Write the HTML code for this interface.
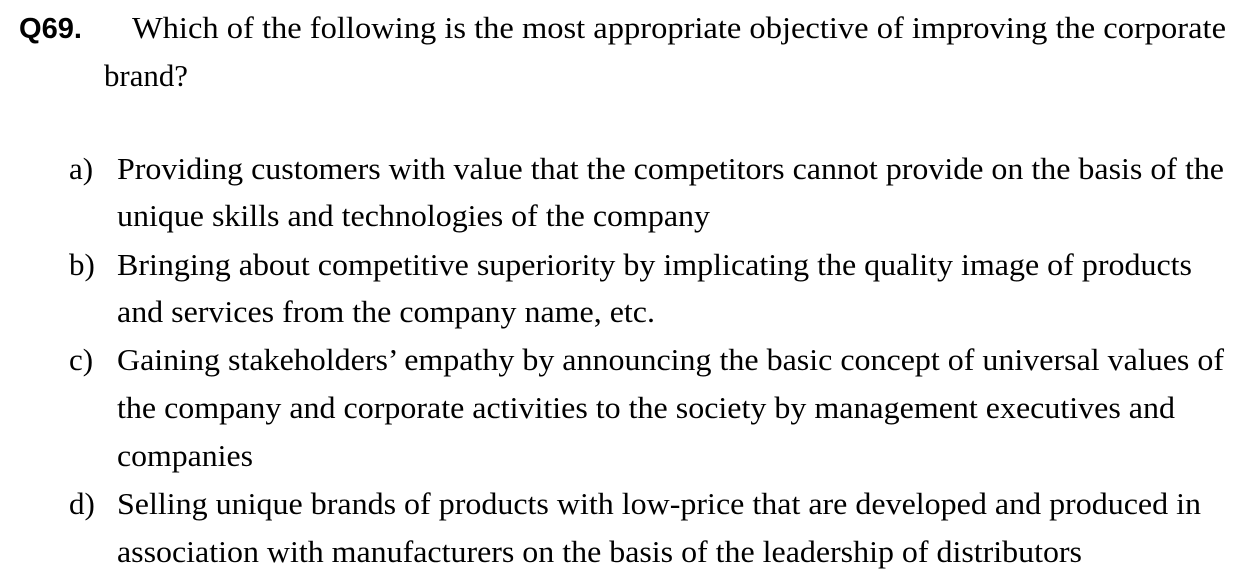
<!DOCTYPE html>
<html><head><meta charset="utf-8"><style>
html,body{margin:0;padding:0;background:#fff;}
svg{display:block;}
text{font-family:"Liberation Serif",serif;font-size:31px;fill:#000;}
.q{font-family:"Liberation Sans",sans-serif;font-weight:bold;font-size:29px;}
</style></head><body>
<svg width="1253" height="581" viewBox="0 0 1253 581">
<text class="q" x="19" y="38" textLength="63" lengthAdjust="spacingAndGlyphs">Q69.</text>
<text x="132" y="38" textLength="1094" lengthAdjust="spacingAndGlyphs">Which of the following is the most appropriate objective of improving the corporate</text>
<text x="104" y="86" textLength="84" lengthAdjust="spacingAndGlyphs">brand?</text>

<text x="69" y="179">a)</text>
<text x="117" y="179" textLength="1107" lengthAdjust="spacingAndGlyphs">Providing customers with value that the competitors cannot provide on the basis of the</text>
<text x="117" y="226" textLength="593" lengthAdjust="spacingAndGlyphs">unique skills and technologies of the company</text>

<text x="69" y="275">b)</text>
<text x="117" y="275" textLength="1075" lengthAdjust="spacingAndGlyphs">Bringing about competitive superiority by implicating the quality image of products</text>
<text x="117" y="322" textLength="538" lengthAdjust="spacingAndGlyphs">and services from the company name, etc.</text>

<text x="69" y="370">c)</text>
<text x="117" y="370" textLength="1107" lengthAdjust="spacingAndGlyphs">Gaining stakeholders’ empathy by announcing the basic concept of universal values of</text>
<text x="117" y="418" textLength="1058" lengthAdjust="spacingAndGlyphs">the company and corporate activities to the society by management executives and</text>
<text x="117" y="466" textLength="136" lengthAdjust="spacingAndGlyphs">companies</text>

<text x="69" y="514">d)</text>
<text x="117" y="514" textLength="1084" lengthAdjust="spacingAndGlyphs">Selling unique brands of products with low-price that are developed and produced in</text>
<text x="117" y="562" textLength="965" lengthAdjust="spacingAndGlyphs">association with manufacturers on the basis of the leadership of distributors</text>
</svg>
</body></html>
